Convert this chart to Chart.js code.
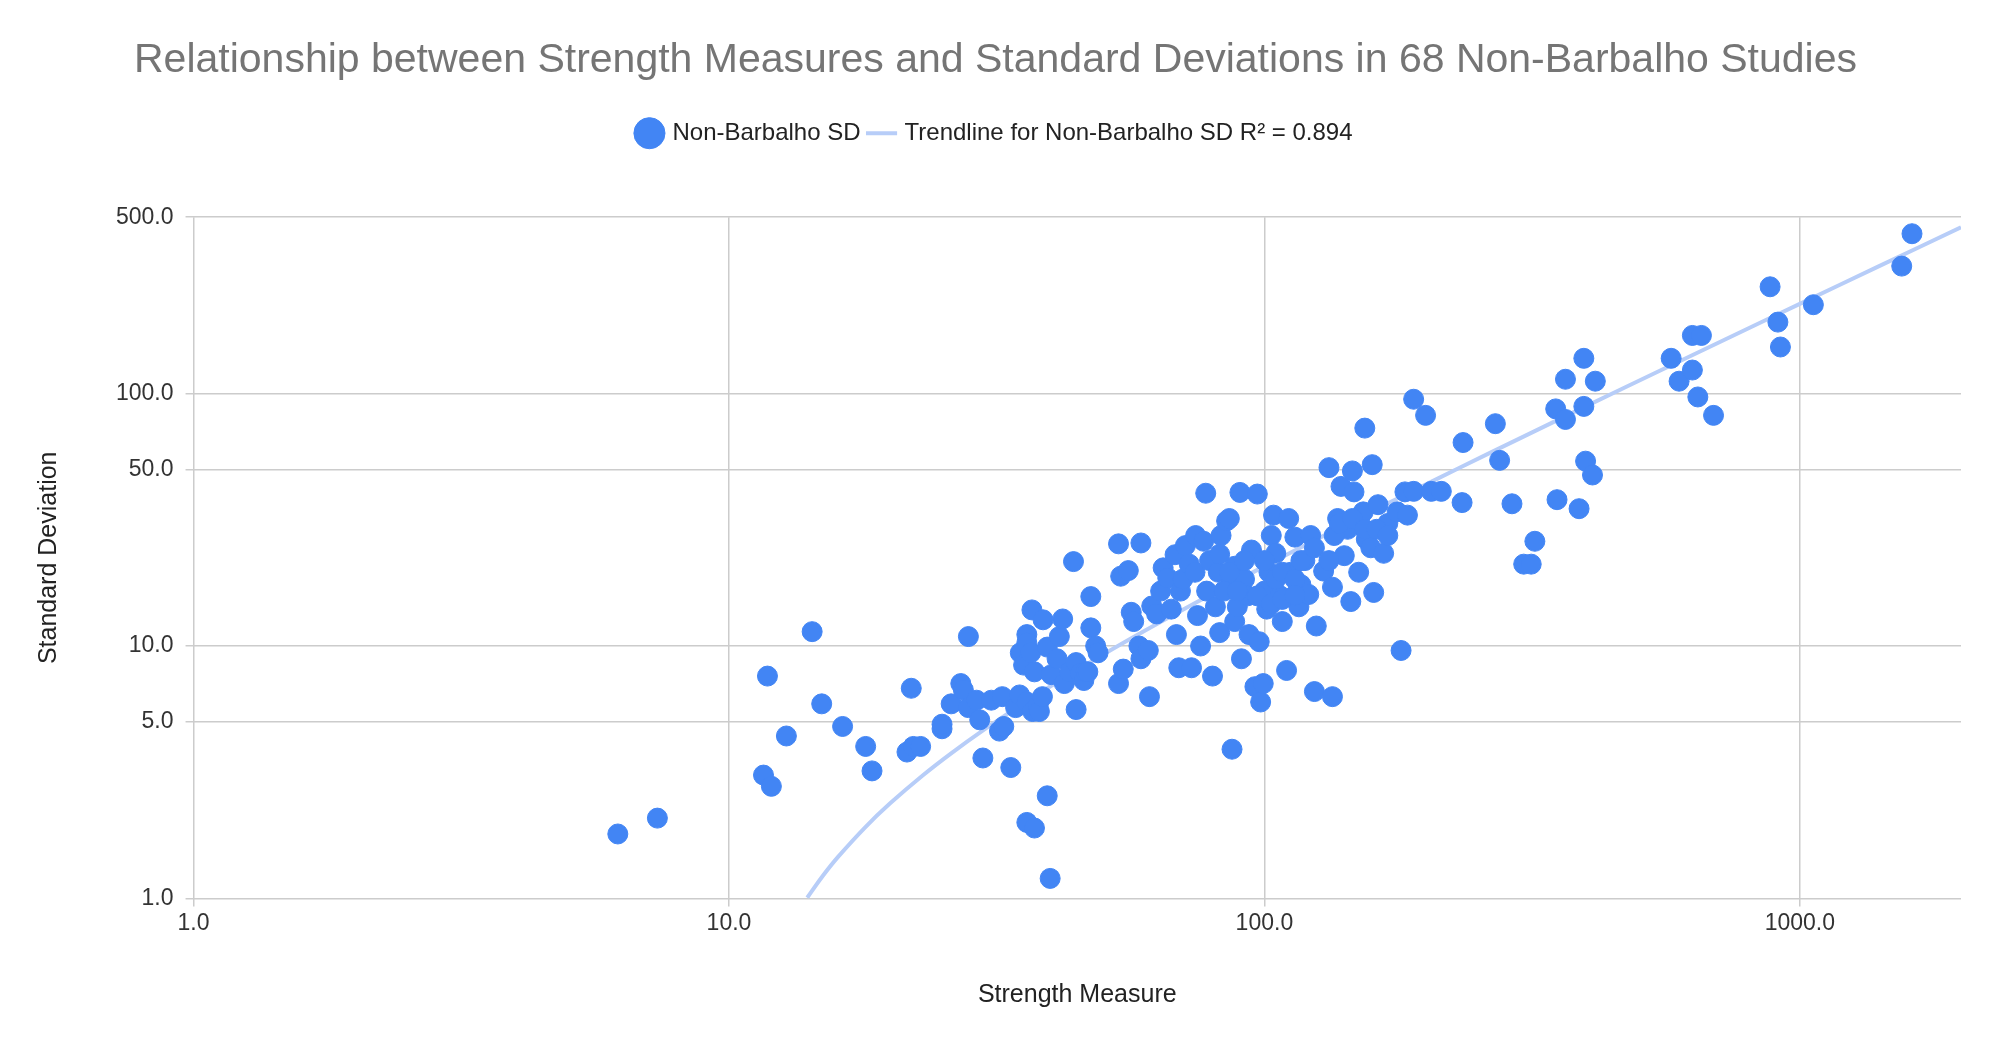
<!DOCTYPE html>
<html>
<head>
<meta charset="utf-8">
<script src="https://cdn.jsdelivr.net/npm/chart.js@4/dist/chart.umd.min.js"></script>
<style>
  html, body { margin: 0; padding: 0; background: #fff; }
  #wrap { width: 1999px; height: 1044px; }
</style>
</head>
<body>
<div id="wrap"><canvas id="chart"></canvas></div>
<script>
// Strength measure (x) and standard deviation (y)
const strength = [6.2,7.35,14.3,11.8,11.6,12.0,12.8,14.9,16.3,18.0,18.5,21.5,21.9,22.1,22.8,25,25,26,27.1,27.4,28,28,29,29.4,29.8,30.9,32,32.6,32.4,33.6,34.3,34.9,35,35.5,36,36,36.9,37.2,36.8,36,36,36.6,37.2,37.8,38,38.5,39.3,39.8,38.6,39.3,40,41,41.4,42,42.3,43.3,44,44.5,44.5,45.3,46,46.4,46.8,47.4,47.4,48.4,48.9,53.4,53.9,55.7,53.4,54.5,56.4,57,58.3,58.8,58.8,60.7,61,61.6,62.9,64,64.7,66,67,68.1,68.5,69.2,69.7,70.4,71.2,72.4,73.1,74.2,74.4,75,76,77.7,77,78,79,80,81,82,82.5,83,85,86,87,86.5,88,88,89,90,90.6,91.8,93,93.6,94.6,96,97,97.8,98.4,99.5,100,101,102,103,104,105,107,108,110,111,112,114,116,117,119,121,122,124,125,129,132,134,134,137,139,141,143,145,146,147,150,153,154,155,158,159,160,163,167,170,177,180,183,185,190,190,200,205,214,234,235,270,275,290,305,315,320,350,352,365,365,387,395,395,398,410,415,575,595,630,630,645,655,690,880,910,920,1060,1550,1620,82.5,86,91.8,100,105,108,114,117,124,132,135,138,146,154,162,170,84,89,97,103,108,114];
const stdDev = [1.8,2.08,11.4,7.6,3.08,2.78,4.4,5.9,4.8,4.0,3.2,3.8,6.8,4.0,4.0,4.7,4.9,5.9,7.1,6.7,10.9,5.7,6.1,5.1,3.6,6.1,4.6,4.8,6.3,3.3,5.7,6.4,9.4,8.4,6.0,2.0,5.5,1.9,13.9,11.1,10.3,9.4,7.9,5.8,5.5,6.3,2.55,1.2,12.7,9.9,7.7,8.9,10.9,12.8,7.1,7.9,21.6,5.6,8.6,7.8,7.3,7.9,7.9,15.7,11.8,10.0,9.4,25.4,18.9,19.9,7.1,8.1,13.6,12.5,10.0,25.6,8.9,9.6,6.3,14.4,13.4,16.5,20.4,18.6,14,23,11.1,8.2,16.5,18.4,25,21.1,8.2,19.6,27.4,13.2,10,40.3,26,16.5,21.8,7.6,14.3,19.6,11.3,27.4,31.3,32,3.9,17.5,20.7,12.5,14.3,40.6,8.9,18.4,15.8,11.1,24,6.9,40,10.4,6,7.1,16.5,14,19.6,27.4,33,23.3,15.8,12.5,8,32,19.6,27,14.3,17.5,21.8,16,27.4,6.6,12,19.8,50.9,17.1,6.3,32,42.9,22.8,29,15,49.4,40.8,19.6,34,73,26.5,24.5,52.3,16.3,36.3,23.3,30.6,34,9.6,40.8,33,41,95,82,41,41,37,64,76,54.4,36.6,21.1,21.1,26,87,38,79,114,35,138,89,54,47.6,112,138,112,170,124,97,170,82,265,192,153,225,320,430,23.1,19.6,21.8,21.8,18.4,19.6,18.4,21.8,24.5,21.8,27.4,30.6,32,29,29,27.4,16.5,16.5,15.8,14.7,15.3,15.9];

// Linear trendline (y = slope * x + intercept), drawn over log axes
const trendSlope = 0.229;
const trendIntercept = -2.2;
const trendX = [14, 15, 16, 18, 20, 23, 26, 30, 35, 40, 50, 60, 75, 90, 110, 140, 180, 230, 300, 400, 550, 750, 1000, 1400, 2000];

const xTicks = [1, 10, 100, 1000];
const yTicks = [1, 5, 10, 50, 100, 500];

const points = strength.map((x, i) => ({ x: x, y: stdDev[i] }));
const trend = trendX.map(x => ({ x: x, y: trendSlope * x + trendIntercept }));

// extra gap below the legend
const legendGap = {
    id: 'legendGap',
    beforeInit(chart) {
        const fit = chart.legend.fit;
        chart.legend.fit = function () {
            fit.bind(chart.legend)();
            this.height += 62;
        };
    }
};

const ctx = document.getElementById('chart').getContext('2d');
new Chart(ctx, {
    type: 'scatter',
    data: {
        datasets: [{
            label: 'Non-Barbalho SD',
            data: points,
            backgroundColor: '#4285F4',
            borderColor: '#4285F4',
            pointRadius: 10,
            pointHoverRadius: 10,
            pointStyle: 'circle',
            order: 1
        }, {
            label: 'Trendline for Non-Barbalho SD R² = 0.894',
            data: trend,
            type: 'line',
            showLine: true,
            borderColor: '#b7cdf8',
            backgroundColor: '#b7cdf8',
            borderWidth: 4,
            pointRadius: 0,
            pointStyle: 'line',
            tension: 0.4,
            order: 2
        }]
    },
    options: {
        responsive: true,
        maintainAspectRatio: false,
        animation: false,
        layout: { padding: { left: 30, right: 38, top: 26, bottom: 30 } },
        plugins: {
            title: {
                display: true,
                text: 'Relationship between Strength Measures and Standard Deviations in 68 Non-Barbalho Studies',
                color: '#757575',
                font: { family: 'Arial, "Liberation Sans"', size: 41, weight: 'normal' },
                padding: { top: 10, bottom: 26 }
            },
            legend: {
                labels: {
                    usePointStyle: true,
                    boxWidth: 22,
                    boxHeight: 22,
                    color: '#222',
                    font: { family: 'Arial, "Liberation Sans"', size: 24 },
                    padding: 10
                }
            },
            tooltip: { enabled: false }
        },
        scales: {
            x: {
                type: 'logarithmic',
                min: 1,
                max: 2000,
                afterBuildTicks: axis => { axis.ticks = xTicks.map(v => ({ value: v })); },
                ticks: {
                    callback: v => Number(v).toFixed(1),
                    color: '#333',
                    font: { family: 'Arial, "Liberation Sans"', size: 23 },
                    maxRotation: 0
                },
                grid: { color: '#cccccc', lineWidth: 1.5 },
                border: { display: false },
                title: {
                    display: true,
                    text: 'Strength Measure',
                    color: '#222',
                    font: { family: 'Arial, "Liberation Sans"', size: 25 },
                    padding: { top: 40 }
                }
            },
            y: {
                type: 'logarithmic',
                min: 1,
                max: 500,
                afterBuildTicks: axis => { axis.ticks = yTicks.map(v => ({ value: v })); },
                ticks: {
                    callback: v => Number(v).toFixed(1),
                    color: '#333',
                    font: { family: 'Arial, "Liberation Sans"', size: 23 },
                    padding: 12
                },
                grid: { color: '#cccccc', lineWidth: 1.5 },
                border: { display: false },
                title: {
                    display: true,
                    text: 'Standard Deviation',
                    color: '#222',
                    font: { family: 'Arial, "Liberation Sans"', size: 25 },
                    padding: { bottom: 40 }
                }
            }
        }
    },
    plugins: [legendGap]
});
</script>
</body>
</html>
